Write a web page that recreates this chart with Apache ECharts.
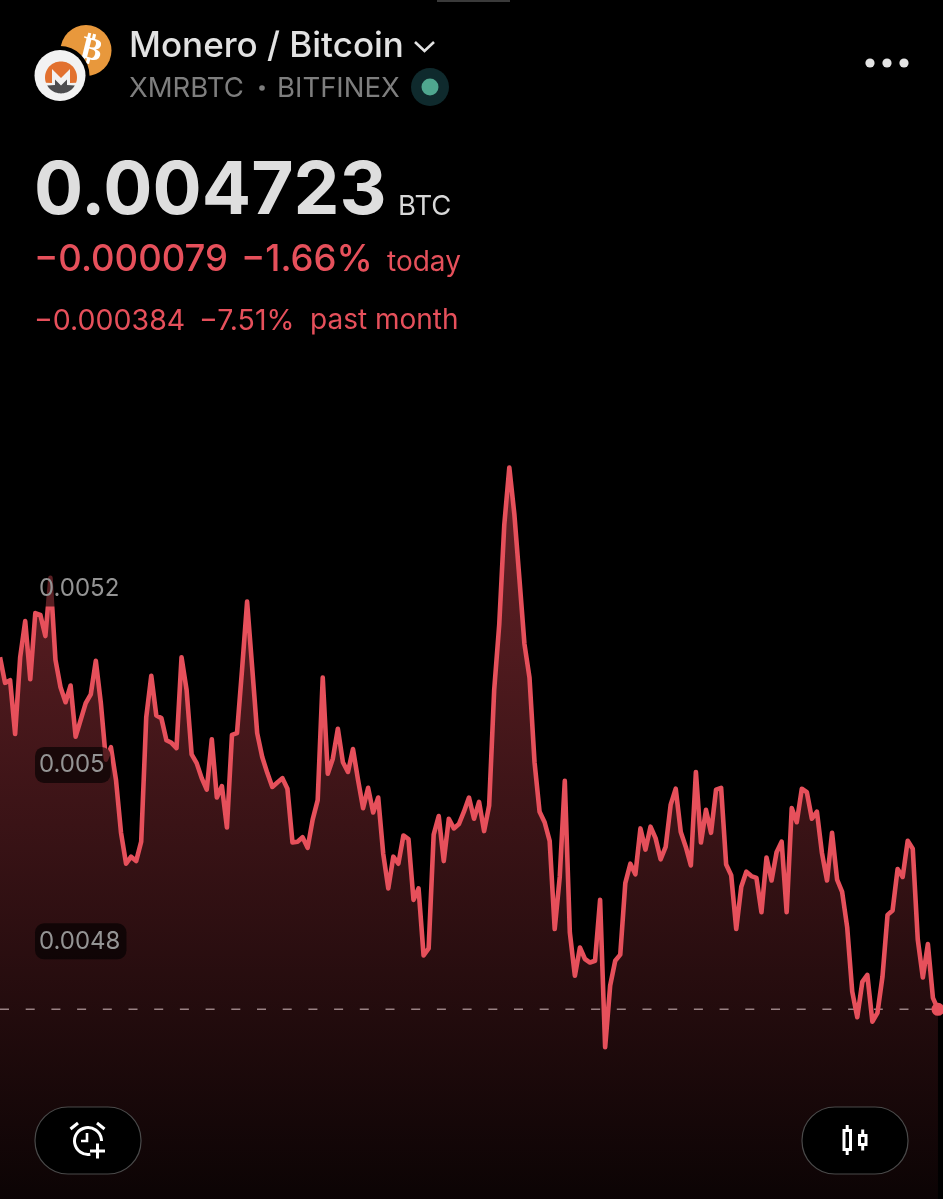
<!DOCTYPE html>
<html>
<head>
<meta charset="utf-8">
<title>Monero / Bitcoin</title>
<style>
  html, body { margin: 0; padding: 0; background: #000; }
  #chart { width: 943px; height: 1199px; }
</style>
<script src="https://cdn.jsdelivr.net/npm/echarts@6/dist/echarts.min.js"></script>
</head>
<body>
<div id="chart"></div>
<script>
// XMRBTC closes, one per step, oldest first
const prices = [
  0.005122, 0.005093, 0.005096, 0.005035, 0.005122, 0.005163, 0.005097, 0.005172, 0.005170, 0.005146,
  0.005212, 0.005119, 0.005088, 0.005071, 0.005090, 0.005032, 0.005051, 0.005070, 0.005080, 0.005118,
  0.005070, 0.005006, 0.005020, 0.004983, 0.004923, 0.004888, 0.004896, 0.004891, 0.004913, 0.005054,
  0.005101, 0.005056, 0.005053, 0.005028, 0.005025, 0.005019, 0.005122, 0.005085, 0.005012, 0.005002,
  0.004985, 0.004972, 0.005029, 0.004963, 0.004976, 0.004929, 0.005034, 0.005036, 0.005108, 0.005185,
  0.005111, 0.005036, 0.005009, 0.004991, 0.004975, 0.004980, 0.004985, 0.004973, 0.004912, 0.004913,
  0.004918, 0.004906, 0.004938, 0.004960, 0.005099, 0.004990, 0.005007, 0.005041, 0.005003, 0.004992,
  0.005018, 0.004983, 0.004951, 0.004974, 0.004946, 0.004963, 0.004899, 0.004860, 0.004896, 0.004888,
  0.004920, 0.004916, 0.004847, 0.004860, 0.004784, 0.004792, 0.004921, 0.004942, 0.004891, 0.004939,
  0.004928, 0.004933, 0.004947, 0.004963, 0.004939, 0.004958, 0.004925, 0.004954, 0.005085, 0.005159,
  0.005272, 0.005337, 0.005284, 0.005211, 0.005137, 0.005099, 0.005003, 0.004947, 0.004935, 0.004914,
  0.004814, 0.004873, 0.004982, 0.004810, 0.004761, 0.004793, 0.004780, 0.004776, 0.004778, 0.004847,
  0.004680, 0.004750, 0.004778, 0.004785, 0.004866, 0.004888, 0.004876, 0.004928, 0.004904, 0.004930,
  0.004917, 0.004893, 0.004907, 0.004955, 0.004973, 0.004924, 0.004907, 0.004886, 0.004992, 0.004912,
  0.004949, 0.004923, 0.004972, 0.004974, 0.004887, 0.004875, 0.004814, 0.004862, 0.004879, 0.004874,
  0.004872, 0.004833, 0.004895, 0.004869, 0.004901, 0.004913, 0.004833, 0.004951, 0.004935, 0.004973,
  0.004969, 0.004939, 0.004947, 0.004900, 0.004869, 0.004923, 0.004870, 0.004856, 0.004816, 0.004743,
  0.004714, 0.004754, 0.004762, 0.004709, 0.004719, 0.004760, 0.004830, 0.004835, 0.004882, 0.004873,
  0.004914, 0.004905, 0.004802, 0.004759, 0.004797, 0.004736, 0.004723
]
const axisTicks = [0.0048, 0.005, 0.0052]
const lastPrice = 0.004723

const RED = '#e6505b'
const UI_FONT = 'Inter, "Noto Sans", sans-serif'

// one spare step on the right so the last point sits just inside the edge
const steps = prices.map((p, i) => i).concat(prices.length)

const txt = (text, x, y, fill, font) => ({
  type: 'text',
  z: 100,
  style: { text, x, y, fill, font, verticalAlign: 'middle' }
})
const stroke = (color, width) => ({ stroke: color, lineWidth: width, fill: null, lineCap: 'butt' })
const seg = (x1, y1, x2, y2, color, width) => ({
  type: 'line', z: 101, shape: { x1, y1, x2, y2 }, style: stroke(color, width)
})
const dot = (cx, cy, r, fill, z) => ({ type: 'circle', z: z || 100, shape: { cx, cy, r }, style: { fill } })
const button = (x) => ({
  type: 'rect', z: 100,
  shape: { x, y: 1107, width: 106, height: 67, r: 33 },
  style: { fill: '#000', stroke: '#4a4a4a', lineWidth: 1.2 }
})
// points along a circle for the monero logo, angles in degrees
const arcPts = (cx, cy, r, from, to) => {
  const out = []
  for (let a = from; a <= to; a += 5) {
    out.push([cx + r * Math.cos(a * Math.PI / 180), cy + r * Math.sin(a * Math.PI / 180)])
  }
  return out
}

const header = [
  { type: 'rect', z: 100, shape: { x: 437, y: 0, width: 73, height: 2 }, style: { fill: '#3a3a3a' } },

  // coin badges
  dot(86, 50.5, 25.5, '#e8983c', 100),
  {
    type: 'text', z: 101, rotation: -14 * Math.PI / 180, x: 91, y: 51, originX: 0, originY: 0,
    style: { text: '₿', x: 0, y: 0, fill: '#fff', font: '700 32px "DejaVu Sans"', align: 'center', verticalAlign: 'middle' }
  },
  dot(60, 75.5, 29.5, '#000', 102),
  dot(60, 75.5, 25.5, '#f2f2f2', 103),
  {
    type: 'polygon', z: 104,
    shape: { points: arcPts(61, 77.4, 16, 160, 380).concat([[70, 83], [70, 69], [61, 78], [52, 69], [52, 83]]) },
    style: { fill: '#e2712f' }
  },
  {
    type: 'polygon', z: 104,
    shape: { points: arcPts(61, 77.4, 16, 30, 150).concat([[55, 85], [55, 79.5], [61, 85.5], [67, 79.5], [67, 85]]) },
    style: { fill: '#4d4d4f' }
  },

  // title block
  txt('Monero / Bitcoin', 129, 46, '#e2e2e2', '500 35px ' + UI_FONT),
  {
    type: 'polyline', z: 100,
    shape: { points: [[415, 42], [424.5, 51], [434, 42]] },
    style: stroke('#e2e2e2', 2.6)
  },
  txt('XMRBTC', 129, 89, '#7e7e7e', '400 27.5px ' + UI_FONT),
  dot(262, 88, 2.8, '#7e7e7e'),
  txt('BITFINEX', 277, 89, '#7e7e7e', '400 27.5px ' + UI_FONT),
  dot(430, 87, 19, '#0f2a2d'),
  dot(430, 87, 8.5, '#4fa78f', 101),
  dot(870, 63, 4.6, '#e4e4e4'),
  dot(887, 63, 4.6, '#e4e4e4'),
  dot(904, 63, 4.6, '#e4e4e4'),

  // price block
  txt('0.004723', 34, 192, '#dedede', '700 73px ' + UI_FONT),
  txt('BTC', 398, 207, '#d8d8d8', '400 27.5px ' + UI_FONT),
  txt('−0.000079', 34, 260, RED, '500 36.5px ' + UI_FONT),
  txt('−1.66%', 241, 260, RED, '500 36.5px ' + UI_FONT),
  txt('today', 387, 263, RED, '400 28px ' + UI_FONT),
  txt('−0.000384', 34, 321, RED, '400 28.5px ' + UI_FONT),
  txt('−7.51%', 199, 321, RED, '400 28.5px ' + UI_FONT),
  txt('past month', 310, 321, RED, '400 28px ' + UI_FONT),

  // bottom buttons
  button(35),
  button(802),
  {
    type: 'arc', z: 101,
    shape: { cx: 88, cy: 1141, r: 13.5, startAngle: 80 * Math.PI / 180, endAngle: 2 * Math.PI, clockwise: true },
    style: stroke('#fff', 3)
  },
  seg(70.5, 1129, 78, 1123, '#fff', 3),
  seg(97, 1123, 104.5, 1129, '#fff', 3),
  {
    type: 'polyline', z: 101,
    shape: { points: [[87, 1133], [87, 1141], [81, 1141]] },
    style: stroke('#fff', 2.6)
  },
  seg(90, 1151, 105, 1151, '#fff', 3),
  seg(97.5, 1143.5, 97.5, 1158.5, '#fff', 3),
  {
    type: 'rect', z: 101, shape: { x: 844, y: 1130.5, width: 6.5, height: 19 },
    style: stroke('#fff', 3)
  },
  seg(847.2, 1125, 847.2, 1130.5, '#fff', 3),
  seg(847.2, 1149.5, 847.2, 1155, '#fff', 3),
  {
    type: 'rect', z: 101, shape: { x: 859.5, y: 1135.5, width: 6.5, height: 9 },
    style: stroke('#fff', 3)
  },
  seg(862.7, 1129.5, 862.7, 1135.5, '#fff', 3),
  seg(862.7, 1144.5, 862.7, 1150.5, '#fff', 3)
]

const chart = echarts.init(document.getElementById('chart'))

chart.setOption({
  animation: false,
  backgroundColor: '#000',
  grid: { left: 0, right: 0, top: 235.5, bottom: 0 },
  xAxis: {
    type: 'category',
    data: steps,
    boundaryGap: false,
    show: false
  },
  yAxis: {
    type: 'value',
    min: 0.004508,
    max: 0.0056,
    z: 10,
    axisLine: { show: false },
    axisTick: { show: false },
    splitLine: { show: false },
    axisLabel: {
      inside: true,
      margin: 35,
      customValues: axisTicks,
      formatter: (v) => String(v),
      color: '#949494',
      fontFamily: 'Inter',
      fontSize: 24,
      backgroundColor: 'rgba(0, 0, 0, 0.62)',
      borderRadius: 9,
      padding: [8, 6, 4, 4]
    }
  },
  graphic: { elements: header },
  series: [{
    type: 'line',
    data: prices,
    symbol: 'none',
    smooth: false,
    z: 3,
    lineStyle: { color: RED, width: 4.6, join: 'round' },
    areaStyle: {
      origin: 'start',
      opacity: 1,
      color: new echarts.graphic.LinearGradient(0, 0, 0, 1, [
        { offset: 0, color: 'rgba(232, 76, 88, 0.44)' },
        { offset: 1, color: 'rgba(232, 76, 88, 0.05)' }
      ])
    },
    markPoint: {
      silent: true,
      symbol: 'circle',
      symbolSize: 13,
      itemStyle: { color: RED },
      label: { show: false },
      data: [{ coord: [prices.length - 1, lastPrice] }]
    }
  }, {
    // last price reference line
    type: 'line',
    data: steps.map(() => lastPrice),
    symbol: 'none',
    silent: true,
    z: 2,
    lineStyle: { color: '#8c8c8c', width: 1.5, type: [9, 16.7] }
  }]
})

window.addEventListener('resize', () => chart.resize())
</script>
</body>
</html>
